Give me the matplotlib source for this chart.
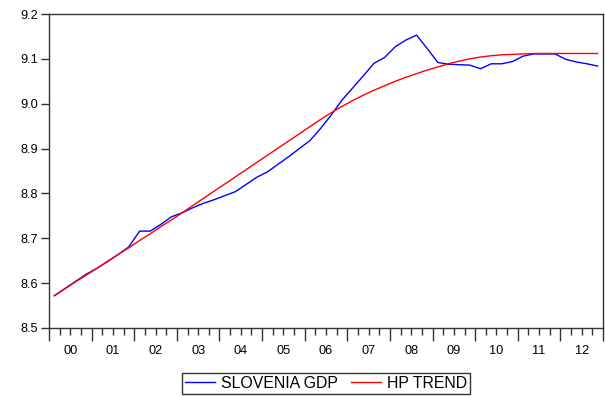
import numpy as np
import matplotlib
matplotlib.use("Agg")
import matplotlib.pyplot as plt

plt.rcParams['font.family'] = ['Liberation Sans', 'DejaVu Sans']

# quarterly data 2000Q1 - 2012Q4 (log real GDP)
year_labels = ['00', '01', '02', '03', '04', '05', '06', '07', '08', '09', '10', '11', '12']

slovenia_gdp = [8.572, 8.588, 8.604, 8.620, 8.633, 8.648, 8.664, 8.681,
                8.716, 8.716, 8.731, 8.748, 8.757, 8.768, 8.778, 8.786,
                8.795, 8.804, 8.820, 8.836, 8.848, 8.865, 8.882, 8.900,
                8.918, 8.945, 8.975, 9.008, 9.035, 9.062, 9.090, 9.103,
                9.127, 9.142, 9.153, 9.123, 9.092, 9.088, 9.087, 9.086,
                9.078, 9.089, 9.089, 9.094, 9.106, 9.111, 9.111, 9.111,
                9.099, 9.093, 9.089, 9.084]

hp_trend = [8.572, 8.5875, 8.603, 8.618, 8.633, 8.649, 8.664, 8.679,
            8.695, 8.710, 8.726, 8.741, 8.757, 8.773, 8.789, 8.805,
            8.821, 8.837, 8.853, 8.869, 8.885, 8.901, 8.917, 8.933,
            8.949, 8.965, 8.980, 8.994, 9.007, 9.019, 9.030, 9.040,
            9.050, 9.059, 9.067, 9.075, 9.082, 9.089, 9.095, 9.100,
            9.104, 9.107, 9.109, 9.110, 9.111, 9.112, 9.112, 9.112,
            9.112, 9.112, 9.112, 9.112]

t = np.arange(len(slovenia_gdp))
n_years = len(year_labels)

fig = plt.figure(figsize=(6.05, 3.96), dpi=100)
ax = fig.add_axes([49/605, 1 - 328/396, 554/605, 314/396])

ax.plot(t, slovenia_gdp, color='#0000ff', lw=1.0, label='SLOVENIA GDP')
ax.plot(t, hp_trend, color='#ff0000', lw=1.0, label='HP TREND')

ax.set_xlim(-0.5, 4 * n_years - 0.5)
ax.set_ylim(8.5, 9.2)
ax.set_yticks(np.arange(8.5, 9.21, 0.1))
ax.set_yticklabels(['%.1f' % v for v in np.arange(8.5, 9.21, 0.1)])

# year boundaries (long ticks) and quarter boundaries (short ticks)
year_edges = np.arange(n_years + 1) * 4 - 0.5
quarter_edges = [q - 0.5 for q in range(4 * n_years + 1) if q % 4 != 0]
ax.set_xticks(year_edges)
ax.set_xticklabels([])
ax.set_xticks(quarter_edges, minor=True)
ax.tick_params(axis='x', which='major', direction='out', length=9, width=1, color='#333333')
ax.tick_params(axis='x', which='minor', direction='out', length=5, width=1, color='#333333')
ax.tick_params(axis='y', direction='out', length=6, width=1, color='#333333',
               labelsize=9.2, pad=2)

# year labels centred in each year
sec = ax.secondary_xaxis('bottom')
sec.set_xticks(np.arange(n_years) * 4 + 1.5)
sec.set_xticklabels(year_labels)
sec.tick_params(length=0, labelsize=9.2, pad=12)
sec.spines['bottom'].set_visible(False)

for s in ax.spines.values():
    s.set_color('#333333')
    s.set_linewidth(1.0)

leg = fig.legend(loc='center', bbox_to_anchor=(326/605, 1 - 383.5/396), ncol=2,
                 frameon=True, fancybox=False, edgecolor='black', fontsize=11.4,
                 handlelength=1.9, columnspacing=0.84, borderpad=0.2,
                 handletextpad=0.36, borderaxespad=0.0)
leg.get_frame().set_linewidth(1.0)

fig.savefig('out.png', dpi=100)
